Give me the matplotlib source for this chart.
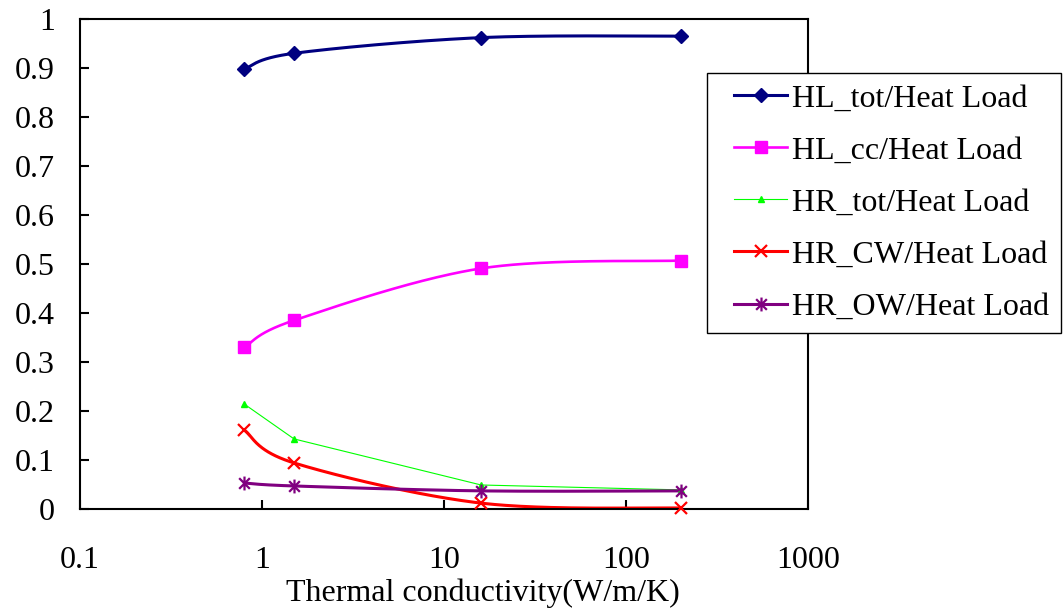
import numpy as np
import matplotlib
matplotlib.use("Agg")
import matplotlib.pyplot as plt
from matplotlib.path import Path
from matplotlib.lines import Line2D
from matplotlib.legend_handler import HandlerLine2D

# Thermal conductivity values (W/m/K)
conductivity = [0.8, 1.5, 16, 200]

# Ratios to heat load
hl_tot = [0.898, 0.930, 0.962, 0.965]
hl_cc = [0.330, 0.385, 0.491, 0.507]
hr_tot = [0.214, 0.143, 0.049, 0.039]
hr_cw = [0.161, 0.094, 0.012, 0.002]
hr_ow = [0.053, 0.047, 0.037, 0.037]

series_labels = ["HL_tot/Heat Load", "HL_cc/Heat Load", "HR_tot/Heat Load",
                 "HR_CW/Heat Load", "HR_OW/Heat Load"]

x_ticks = [0.1, 1, 10, 100, 1000]
x_tick_labels = ["0.1", "1", "10", "100", "1000"]
y_ticks = [0, 0.1, 0.2, 0.3, 0.4, 0.5, 0.6, 0.7, 0.8, 0.9, 1]
y_tick_labels = ["0", "0.1", "0.2", "0.3", "0.4", "0.5", "0.6", "0.7", "0.8", "0.9", "1"]

plt.rcParams["font.family"] = ["Liberation Serif", "DejaVu Serif"]
FS = 23

fig = plt.figure(figsize=(10.63, 6.08), dpi=100)
W, H = 1063, 608
ax = fig.add_axes([80 / W, 1 - 509 / H, (808 - 80) / W, (509 - 19) / H])
ax.set_xscale("log")
ax.set_xlim(0.1, 1000)
ax.set_ylim(0, 1)

# asterisk marker: an X crossed by a vertical stroke
star = Path([(-1, -1), (1, 1), (-1, 1), (1, -1), (0, -1.3), (0, 1.3)],
            [Path.MOVETO, Path.LINETO, Path.MOVETO, Path.LINETO, Path.MOVETO, Path.LINETO])


def smooth_curve(xs, ys, n=60):
    """Bezier smoothing through the points, computed in display space."""
    pts = ax.transData.transform(np.column_stack([xs, ys]))
    m = len(pts)
    t = np.linspace(0, 1, n)[:, None]
    out = []
    for i in range(m - 1):
        p0 = pts[max(i - 1, 0)]
        p1 = pts[i]
        p2 = pts[i + 1]
        p3 = pts[min(i + 2, m - 1)]
        c1 = p1 + (p2 - p0) / 6.0
        c2 = p2 - (p3 - p1) / 6.0
        seg = ((1 - t) ** 3) * p1 + 3 * ((1 - t) ** 2) * t * c1 + 3 * (1 - t) * t ** 2 * c2 + t ** 3 * p2
        out.append(seg if i == 0 else seg[1:])
    curve = np.vstack(out)
    data = ax.transData.inverted().transform(curve)
    return data[:, 0], data[:, 1]


class IndentedLineHandler(HandlerLine2D):
    """Legend line sample drawn with an extra left indent."""
    def get_xdata(self, legend, xdescent, ydescent, width, height, fontsize):
        off = 0.5 * fontsize
        x0, x1 = -xdescent + off, -xdescent + width
        return np.array([x0, x1]), np.array([0.5 * (x0 + x1)])


styles = [
    dict(y=hl_tot, color="#000080", lw=2.2, marker="D", ms=7.5, mew=1, smooth=True),
    dict(y=hl_cc, color="#FF00FF", lw=1.9, marker="s", ms=9, mew=1, smooth=True),
    dict(y=hr_tot, color="#00FF00", lw=0.8, marker="^", ms=5, mew=1, smooth=False),
    dict(y=hr_cw, color="#FF0000", lw=2.2, marker="x", ms=9, mew=1.6, smooth=True),
    dict(y=hr_ow, color="#800080", lw=2.2, marker=star, ms=10, mew=1.6, smooth=True),
]

handles = []
for st in styles:
    if st["smooth"]:
        cx, cy = smooth_curve(conductivity, st["y"])
    else:
        cx, cy = conductivity, st["y"]
    ax.plot(cx, cy, color=st["color"], lw=st["lw"], solid_capstyle="round", zorder=2)
    ax.plot(conductivity, st["y"], linestyle="none", marker=st["marker"], ms=st["ms"],
            mfc=st["color"], mec=st["color"], mew=st["mew"], zorder=3, clip_on=False)
    handles.append(Line2D([], [], color=st["color"], lw=st["lw"], marker=st["marker"],
                          ms=st["ms"], mfc=st["color"], mec=st["color"], mew=st["mew"]))

ax.set_xticks(x_ticks)
ax.set_xticklabels(x_tick_labels, fontsize=FS)
ax.xaxis.set_minor_locator(matplotlib.ticker.NullLocator())
ax.set_yticks(y_ticks)
ax.set_yticklabels(y_tick_labels, fontsize=FS)

ax.tick_params(axis="both", direction="in", length=6.5, width=1.5, color="black")
ax.tick_params(axis="x", pad=27)
ax.tick_params(axis="y", pad=18)

for side in ["left", "right", "top", "bottom"]:
    ax.spines[side].set_linewidth(1.5)
    ax.spines[side].set_color("black")

ax.set_xlabel("Thermal conductivity(W/m/K)", fontsize=FS, labelpad=2)
ax.xaxis.label.set_x((483 - 80) / (808 - 80))

leg = fig.legend(handles, series_labels, loc="upper left",
                 bbox_to_anchor=(707 / W, 1 - 73 / H), bbox_transform=fig.transFigure,
                 fontsize=FS, frameon=True, fancybox=False, shadow=False, framealpha=1,
                 edgecolor="black", borderpad=0.35, labelspacing=0.71,
                 handlelength=2.16, handletextpad=0.16, borderaxespad=0,
                 handler_map={Line2D: IndentedLineHandler()})
leg.get_frame().set_linewidth(1.0)
leg.set_zorder(10)

fig.savefig("out.png", dpi=100, facecolor="white")
